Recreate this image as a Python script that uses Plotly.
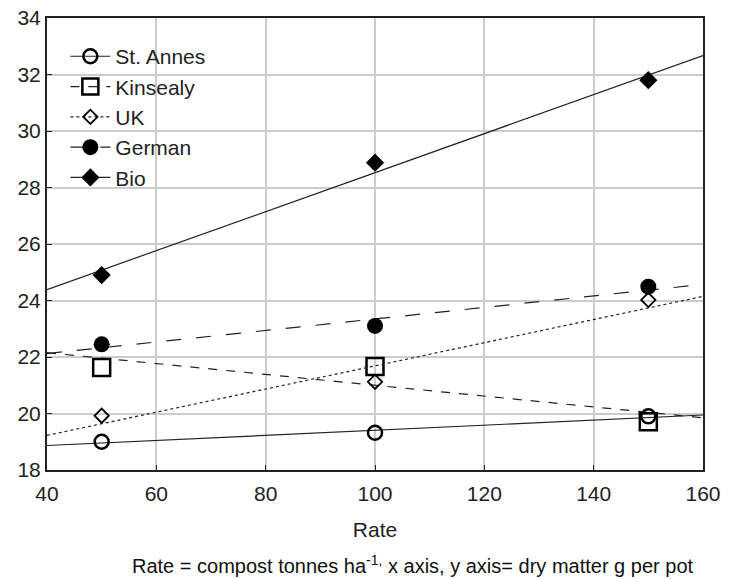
import numpy as np
import plotly.graph_objects as go

rates = [50, 100, 150]
series_names = ["St. Annes", "Kinsealy", "UK", "German", "Bio"]
st_annes = [19.0, 19.32, 19.9]
kinsealy = [21.63, 21.66, 19.71]
uk = [19.92, 21.12, 24.02]
german = [22.45, 23.1, 24.49]
bio = [24.9, 28.88, 31.8]
x_range = [40, 160]

styles = {
    "St. Annes": dict(symbol="circle-open", size=14, lw=2.5, dash="solid"),
    "Kinsealy": dict(symbol="square-open", size=17, lw=2.5, dash="dash"),
    "UK": dict(symbol="diamond-open", size=11, lw=1.8, dash="dot"),
    "German": dict(symbol="circle", size=16, lw=0, dash="longdash"),
    "Bio": dict(symbol="diamond", size=14, lw=0, dash="solid"),
}

fig = go.Figure()
values = [st_annes, kinsealy, uk, german, bio]
xfit = np.array(x_range, dtype=float)
for name, ys in zip(series_names, values):
    st = styles[name]
    slope, icpt = np.polyfit(rates, ys, 1)
    mk = dict(symbol=st["symbol"], size=st["size"], color="black",
              line=dict(color="black", width=st["lw"]))
    ln = dict(color="#222222", width=1.2, dash=st["dash"])
    # regression line
    fig.add_trace(go.Scatter(
        x=xfit, y=slope * xfit + icpt, mode="lines", line=ln,
        showlegend=False, hoverinfo="skip", legendgroup=name))
    # observed points
    fig.add_trace(go.Scatter(
        x=rates, y=ys, mode="markers", name=name, legendgroup=name,
        marker=mk, showlegend=False))
    # legend entry (line + marker sample, no data)
    fig.add_trace(go.Scatter(
        x=[None], y=[None], mode="lines+markers", name=name, legendgroup=name,
        line=ln, marker=mk, showlegend=True))

# the page body has an 8px margin, so the figure is sized to fit the window
fig.update_layout(
    width=721, height=571,
    margin=dict(l=39, r=26, t=10, b=109, autoexpand=False),
    paper_bgcolor="white", plot_bgcolor="white",
    font=dict(family="Liberation Sans, Arial, sans-serif", size=21, color="#222222"),
    showlegend=True,
    legend=dict(x=0.028, y=0.96, xanchor="left", yanchor="top",
                bgcolor="rgba(0,0,0,0)", font=dict(size=21),
                tracegroupgap=0, itemwidth=40),
    xaxis=dict(range=x_range, dtick=20, tick0=40, showgrid=True, automargin=False,
               gridcolor="#cccccc", gridwidth=1.5, showline=True,
               linecolor="#222222", linewidth=2, mirror=True,
               ticks="inside", ticklen=5, tickcolor="#222222",
               zeroline=False, ticklabelstandoff=4, ticklabeloverflow="allow",
               title=dict(text="Rate", font=dict(size=21), standoff=18)),
    yaxis=dict(range=[18, 34], dtick=2, showgrid=True, automargin=False,
               gridcolor="#cccccc", gridwidth=1.5, showline=True,
               linecolor="#222222", linewidth=2, mirror=True,
               ticks="inside", ticklen=5, tickcolor="#222222",
               zeroline=False, ticklabeloverflow="allow"),
)
fig.add_annotation(
    text="Rate = compost tonnes ha<sup>-1,</sup> x axis, y axis= dry matter g per pot",
    xref="paper", yref="paper", x=0.558, y=-0.21, xanchor="center", yanchor="middle",
    showarrow=False, font=dict(size=20, color="#111111", family="Liberation Sans, Arial"))

fig.write_html("out.html")
